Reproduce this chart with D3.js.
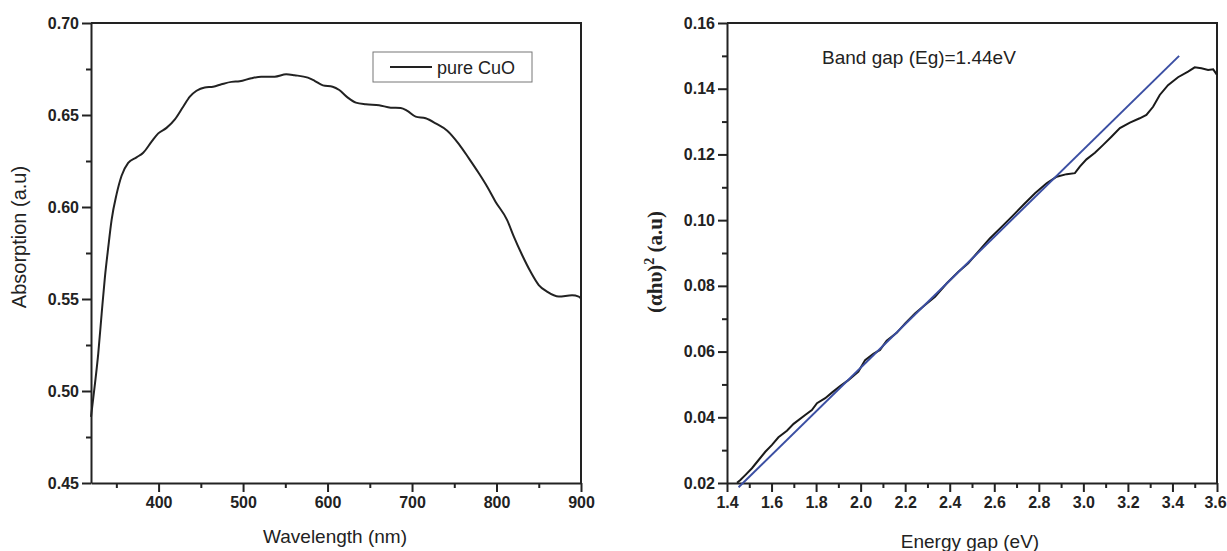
<!DOCTYPE html>
<html lang="en">
<head>
    <meta charset="UTF-8">
    <title>CuO absorption and band gap</title>
    <script src="https://d3js.org/d3.v7.min.js"></script>
    <style>
        body { margin: 0; background: #fff; }
        .tick text { font-family: "Liberation Sans Narrow", "Arial Narrow", "Liberation Sans", Arial, sans-serif; font-weight: bold; font-size: 16px; fill: #222; }
        .axis path, .axis line { stroke: #222; stroke-width: 2px; }
        .label { font-family: "Liberation Sans", Arial, sans-serif; font-size: 19px; fill: #222; }
    </style>
</head>
<body>
    <svg width="1227" height="551"></svg>

    <script type="text/javascript">
        // Absorption spectrum (left)
        const wavelength = [320, 324.7, 328.6, 332.6, 336.5, 340.4, 344.4, 350.3, 356.2, 364, 373.9, 381.8, 391.7, 399.6,
            409.4, 419.3, 429.1, 437, 444.9, 454.7, 464.6, 474.4, 486.2, 496, 509.8, 521.6, 537.4, 551.1, 561, 576.7,
            584.6, 594.5, 606, 613.9, 623.6, 633.5, 645.3, 661, 674.8, 686.6, 694.5, 704.3, 716.1, 727.9, 741.7, 755.5,
            767.3, 779.1, 789, 798.8, 812.6, 820.5, 830.3, 840.2, 850, 859.8, 873.7, 889.4, 897.3, 900];
        const absorption = [0.486, 0.504, 0.5205, 0.542, 0.562, 0.578, 0.593, 0.607, 0.617, 0.624, 0.627, 0.6295, 0.6355, 0.640,
            0.643, 0.6476, 0.6545, 0.660, 0.6632, 0.665, 0.6654, 0.6667, 0.668, 0.6683, 0.670, 0.6708, 0.6708, 0.6721, 0.6716, 0.6703,
            0.6686, 0.6661, 0.6654, 0.6636, 0.6596, 0.6567, 0.6558, 0.6553, 0.654, 0.6538, 0.6522, 0.6491, 0.6482, 0.6455, 0.6415, 0.6342,
            0.6264, 0.6183, 0.611, 0.6029, 0.5929, 0.5839, 0.5739, 0.5649, 0.5576, 0.554, 0.5513, 0.552, 0.5513, 0.5502];

        // Tauc plot (right)
        const energy = [1.445, 1.460, 1.482, 1.512, 1.542, 1.572, 1.602, 1.631, 1.669, 1.699, 1.751, 1.781, 1.804, 1.841,
            1.871, 1.908, 1.945, 1.990, 2.020, 2.057, 2.087, 2.117, 2.162, 2.200, 2.244, 2.289, 2.334, 2.387, 2.439, 2.483,
            2.528, 2.581, 2.626, 2.678, 2.730, 2.783, 2.835, 2.880, 2.925, 2.962, 2.984, 3.014, 3.052, 3.089, 3.126, 3.164,
            3.209, 3.253, 3.283, 3.313, 3.343, 3.380, 3.425, 3.470, 3.500, 3.530, 3.560, 3.583, 3.600];
        const tauc = [0.0201, 0.0209, 0.0224, 0.0245, 0.0270, 0.0295, 0.0316, 0.0339, 0.0359, 0.0380, 0.0407, 0.0422, 0.0443, 0.0458,
            0.0475, 0.0495, 0.0513, 0.0539, 0.0574, 0.0593, 0.0605, 0.0633, 0.0657, 0.0686, 0.0716, 0.0742, 0.0767, 0.0808, 0.0843, 0.0869,
            0.0904, 0.0945, 0.0975, 0.1010, 0.1046, 0.1082, 0.1112, 0.1132, 0.1140, 0.1143, 0.1163, 0.1185, 0.1205, 0.1229, 0.1254, 0.1280,
            0.1297, 0.1310, 0.1320, 0.1345, 0.1381, 0.1411, 0.1435, 0.1452, 0.1465, 0.1462, 0.1457, 0.1459, 0.1442];
        const fitLine = [[1.452, 0.0187], [3.43, 0.150]];

        const svg = d3.select('svg');
        const plotTop = 23, plotBottom = 483;

        function framePanel(x, y, xMajor, xMinor, yMajor, yMinor, xFmt, yFmt) {
            const g = svg.append('g');
            const [x0, x1] = x.range();
            // minor ticks
            g.append('g').attr('class', 'axis')
                .attr('transform', `translate(0,${plotBottom})`)
                .call(d3.axisBottom(x).tickValues(xMinor).tickSize(5).tickFormat(''))
                .call(s => s.select('.domain').remove());
            g.append('g').attr('class', 'axis')
                .attr('transform', `translate(${x0},0)`)
                .call(d3.axisLeft(y).tickValues(yMinor).tickSize(5).tickFormat(''))
                .call(s => s.select('.domain').remove());
            // major ticks
            const xa = g.append('g').attr('class', 'axis')
                .attr('transform', `translate(0,${plotBottom})`)
                .call(d3.axisBottom(x).tickValues(xMajor).tickSize(9).tickSizeOuter(0).tickPadding(5).tickFormat(xFmt));
            g.append('g').attr('class', 'axis')
                .attr('transform', `translate(${x0},0)`)
                .call(d3.axisLeft(y).tickValues(yMajor).tickSize(9).tickSizeOuter(0).tickPadding(3).tickFormat(yFmt));
            // top and right frame
            g.append('path')
                .attr('d', `M${x0},${plotTop}H${x1}V${plotBottom}`)
                .attr('fill', 'none').attr('stroke', '#222').attr('stroke-width', 2);
            return xa;
        }

        // ---- left panel ----
        const xL = d3.scaleLinear().domain([320, 900]).range([91, 581]);
        const yL = d3.scaleLinear().domain([0.45, 0.70]).range([plotBottom, plotTop]);
        framePanel(xL, yL,
            [400, 500, 600, 700, 800, 900], [350, 450, 550, 650, 750, 850],
            [0.45, 0.50, 0.55, 0.60, 0.65, 0.70], [0.475, 0.525, 0.575, 0.625, 0.675],
            d3.format('d'), d3.format('.2f'));

        svg.append('path')
            .datum(wavelength.map((w, i) => [w, absorption[i]]))
            .attr('fill', 'none').attr('stroke', '#222').attr('stroke-width', 2)
            .attr('d', d3.line().x(d => xL(d[0])).y(d => yL(d[1])).curve(d3.curveMonotoneX));

        // legend
        const leg = svg.append('g');
        leg.append('rect').attr('x', 373).attr('y', 52).attr('width', 159).attr('height', 30)
            .attr('fill', 'none').attr('stroke', '#777').attr('stroke-width', 1);
        leg.append('line').attr('x1', 390).attr('x2', 432).attr('y1', 67).attr('y2', 67)
            .attr('stroke', '#222').attr('stroke-width', 2);
        leg.append('text').attr('class', 'label').attr('x', 437).attr('y', 74)
            .style('font-size', '18px').text('pure CuO');

        svg.append('text').attr('class', 'label')
            .attr('x', 335).attr('y', 543).attr('text-anchor', 'middle')
            .text('Wavelength (nm)');
        svg.append('text').attr('class', 'label')
            .attr('transform', 'translate(26,237) rotate(-90)').attr('text-anchor', 'middle')
            .style('font-size', '20px')
            .text('Absorption (a.u)');

        // ---- right panel ----
        const xR = d3.scaleLinear().domain([1.4, 3.6]).range([727, 1217]);
        const yR = d3.scaleLinear().domain([0.02, 0.16]).range([plotBottom, plotTop]);
        const xaR = framePanel(xR, yR,
            d3.range(1.4, 3.61, 0.2), d3.range(1.5, 3.6, 0.2),
            [0.02, 0.04, 0.06, 0.08, 0.10, 0.12, 0.14, 0.16], [0.03, 0.05, 0.07, 0.09, 0.11, 0.13, 0.15],
            d3.format('.1f'), d3.format('.2f'));
        // keep the last label inside the page edge
        xaR.selectAll('.tick text').filter(d => d > 3.55).attr('dx', -2);

        svg.append('path')
            .datum(energy.map((e, i) => [e, tauc[i]]))
            .attr('fill', 'none').attr('stroke', '#1a1a1a').attr('stroke-width', 2)
            .attr('d', d3.line().x(d => xR(d[0])).y(d => yR(d[1])));

        svg.append('path')
            .datum(fitLine)
            .attr('fill', 'none').attr('stroke', '#3b4fa3').attr('stroke-width', 2)
            .attr('d', d3.line().x(d => xR(d[0])).y(d => yR(d[1])));

        svg.append('text').attr('class', 'label')
            .attr('x', 822).attr('y', 64)
            .text('Band gap (Eg)=1.44eV');

        svg.append('text').attr('class', 'label')
            .attr('x', 970).attr('y', 548).attr('text-anchor', 'middle')
            .text('Energy gap (eV)');

        const yLab = svg.append('text')
            .attr('transform', 'translate(662,262) rotate(-90)').attr('text-anchor', 'middle')
            .style('font-family', '"Liberation Serif", "Times New Roman", serif')
            .style('font-weight', 'bold').style('font-size', '21px').attr('fill', '#222');
        yLab.append('tspan').text('(\u03b1h\u03c5)');
        yLab.append('tspan').attr('dy', -8).style('font-size', '14px').text('2');
        yLab.append('tspan').attr('dy', 8).text(' (a.u)');
    </script>
</body>
</html>
